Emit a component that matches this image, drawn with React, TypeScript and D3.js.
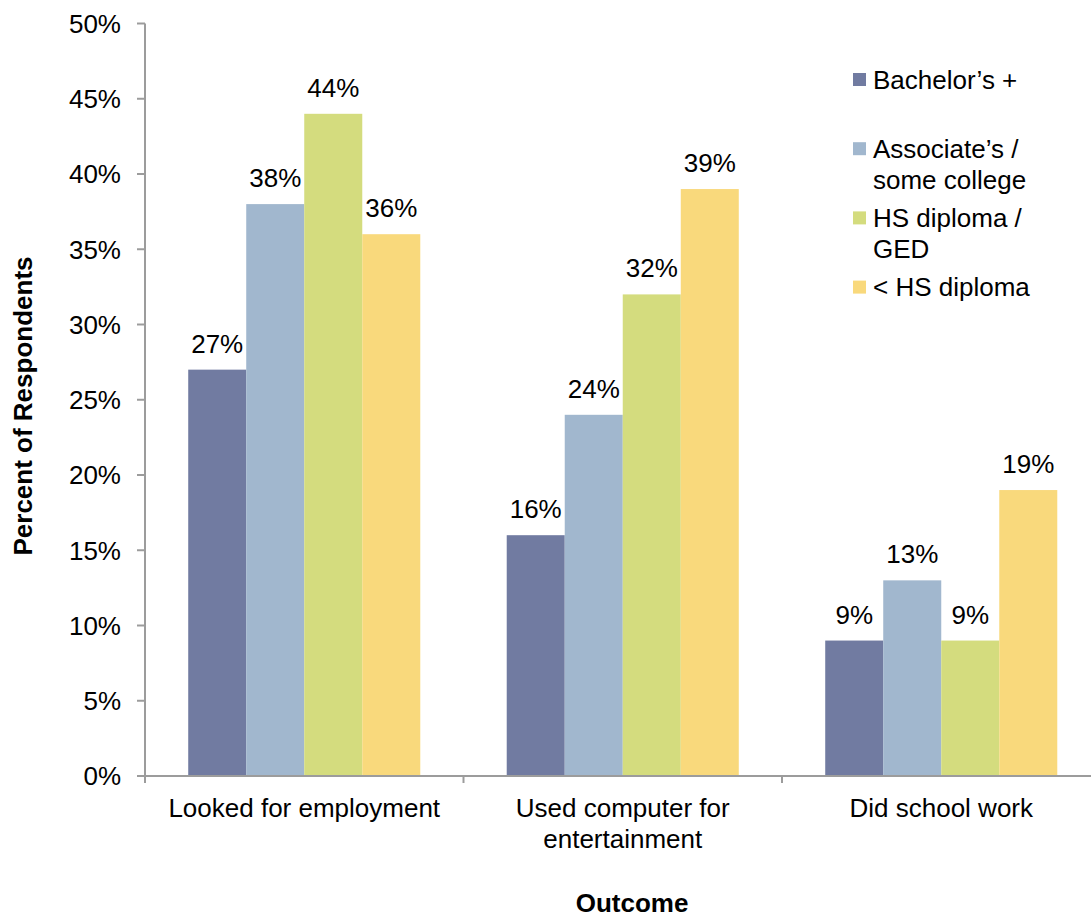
import React from "react";
import * as d3 from "d3";

const categories: string[][] = [
  ["Looked for employment"],
  ["Used computer for", "entertainment"],
  ["Did school work"],
];
const seriesNames: string[] = ["Bachelor’s +", "Associate’s / some college", "HS diploma / GED", "< HS diploma"];
const legendLines: string[][] = [
  ["Bachelor’s +"],
  ["Associate’s /", "some college"],
  ["HS diploma /", "GED"],
  ["< HS diploma"],
];
const seriesColors: string[] = ["#717BA1", "#A1B7CE", "#D4DC7E", "#F9D97C"];
const bachelors: number[] = [27, 16, 9];
const associates: number[] = [38, 24, 13];
const hsDiploma: number[] = [44, 32, 9];
const lessHs: number[] = [36, 39, 19];
const yTicks: number[] = [0, 5, 10, 15, 20, 25, 30, 35, 40, 45, 50];

const W = 1091;
const H = 917;
const FONT = "'Liberation Sans', Arial, sans-serif";
const FS = 26;
const AXIS = "#9C9C9C";

export default function App() {
  const values = [bachelors, associates, hsDiploma, lessHs];
  const catIdx = categories.map((_, i) => i);
  const left = 145;
  const catW = 318.5;
  const x0 = d3.scaleBand<number>().domain(catIdx).range([left, left + catW * categories.length]).padding(0);
  const x1 = d3.scaleBand<number>().domain(seriesNames.map((_, i) => i)).range([0, x0.bandwidth()]).paddingInner(0).paddingOuter(0.745);
  const y = d3.scaleLinear().domain([0, 50]).range([776, 23.5]);

  const boundaries = d3.range(categories.length + 1).map((i) => left + i * catW);

  return (
    <div style={{ position: "absolute", left: 0, top: 0 }}>
      <svg width={W} height={H} style={{ display: "block", fontFamily: FONT }}>
        <rect width={W} height={H} fill="#fff" />
        {/* bars */}
        {catIdx.map((c) =>
          values.map((vals, s) => {
            const v = vals[c];
            const bx = (x0(c) as number) + (x1(s) as number);
            const bw = x1.bandwidth();
            return (
              <g key={`${c}-${s}`}>
                <rect x={bx} y={y(v)} width={bw} height={y(0) - y(v)} fill={seriesColors[s]} />
                <text x={bx + bw / 2} y={y(v) - 17} fontSize={FS} textAnchor="middle" fill="#000">
                  {`${v}%`}
                </text>
              </g>
            );
          })
        )}
        {/* y axis */}
        <line x1={left} x2={left} y1={y(50)} y2={y(0) + 7} stroke={AXIS} strokeWidth={2} />
        {yTicks.map((t) => (
          <g key={t}>
            <line x1={left - 8} x2={left} y1={y(t)} y2={y(t)} stroke={AXIS} strokeWidth={2} />
            <text x={121} y={y(t) + 9.3} fontSize={FS} textAnchor="end" fill="#000">
              {`${t}%`}
            </text>
          </g>
        ))}
        {/* x axis */}
        <line x1={left} x2={boundaries[boundaries.length - 1]} y1={y(0)} y2={y(0)} stroke={AXIS} strokeWidth={2} />
        {boundaries.map((b, i) => (
          <line key={i} x1={b} x2={b} y1={y(0)} y2={y(0) + 7} stroke={AXIS} strokeWidth={2} />
        ))}
        {catIdx.map((c) => (
          <text key={c} x={(x0(c) as number) + x0.bandwidth() / 2} y={817} fontSize={FS} textAnchor="middle" fill="#000">
            {categories[c].map((l, li) => (
              <tspan key={li} x={(x0(c) as number) + x0.bandwidth() / 2} dy={li === 0 ? 0 : 31}>
                {l}
              </tspan>
            ))}
          </text>
        ))}
        {/* axis titles */}
        <text x={632} y={912} fontSize={FS} fontWeight="bold" textAnchor="middle" fill="#000">
          Outcome
        </text>
        <text transform={`translate(31.5, 406) rotate(-90)`} fontSize={FS} fontWeight="bold" textAnchor="middle" fill="#000">
          Percent of Respondents
        </text>
        {/* legend */}
        {legendLines.map((lines, i) => {
          const cy = 79.5 + i * 69.2;
          return (
            <g key={i}>
              <rect x={853} y={cy - 6.5} width={13} height={13} fill={seriesColors[i]} />
              <text x={873} y={cy + 9.3} fontSize={FS} fill="#000">
                {lines.map((l, li) => (
                  <tspan key={li} x={873} dy={li === 0 ? 0 : 31}>
                    {l}
                  </tspan>
                ))}
              </text>
            </g>
          );
        })}
      </svg>
    </div>
  );
}
